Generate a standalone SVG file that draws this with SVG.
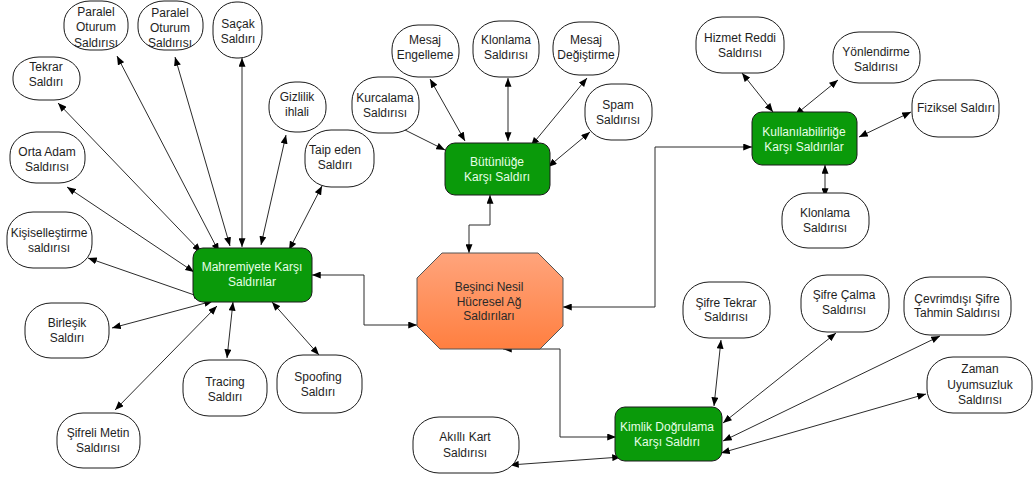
<svg xmlns="http://www.w3.org/2000/svg" width="1033" height="477" viewBox="0 0 1033 477">
  <style>
    text { font-family: "Liberation Sans", Arial, sans-serif; font-size: 12px; text-anchor: middle; }
    .leaf rect { fill: #ffffff; stroke: #1a1a1a; stroke-width: 1; }
    .leaf text { fill: #1e1e1e; }
    .hub rect { fill: #0a9a0a; stroke: #1a1a1a; stroke-width: 1; }
    .hub text { fill: #e6ffe6; }
    .core polygon { fill: url(#coreFill); stroke: #555555; stroke-width: 1; }
    .core text { fill: #2a2a2a; }
    #connectors path { fill: none; stroke: #2b2b2b; stroke-width: 1; marker-end: url(#ah); marker-start: url(#ah); }
    #connectors path.single { marker-start: none; }
  </style>
  <defs>
    <linearGradient id="coreFill" x1="0" y1="0" x2="0" y2="1">
      <stop offset="0" stop-color="#ffa47c"/>
      <stop offset="1" stop-color="#ff7f40"/>
    </linearGradient>
    <marker id="ah" viewBox="0 0 10 8" refX="10" refY="4" markerWidth="9" markerHeight="7" orient="auto-start-reverse" markerUnits="userSpaceOnUse">
      <path d="M0,0 L10,4 L0,8 z" fill="#000000"/>
    </marker>
  </defs>

  <rect width="1033" height="477" fill="#ffffff"/>

  <!-- connectors -->
  <g id="connectors">
    <!-- privacy cluster -->
    <path d="M58,103 L201,252"/>
    <path d="M117,56 L219,252"/>
    <path d="M175,57 L230,246"/>
    <path d="M242,58 L242,247"/>
    <path d="M286,135 L261,245"/>
    <path d="M322,186 L289,250"/>
    <path d="M67,187 L194,272"/>
    <path d="M88,258 L203,298"/>
    <path d="M112,328 L213,301"/>
    <path d="M115,410 L217,306"/>
    <path d="M227,358 L233,302"/>
    <path d="M319,355 L272,302"/>
    <!-- integrity cluster -->
    <path class="single" d="M405,130 L445,150"/>
    <path d="M430,79 L465,141"/>
    <path d="M508,78 L508,141"/>
    <path d="M587,78 L531,146"/>
    <path d="M590,132 L548,167"/>
    <!-- links to the central node -->
    <path d="M490,195 L490,225 L469,225 L469,253"/>
    <path d="M312,275 L364,275 L364,325 L417,325"/>
    <path d="M752,147 L655,147 L655,307 L563,307"/>
    <path d="M616,437 L560,437 L560,349 L503,349"/>
    <!-- availability cluster -->
    <path d="M742,73 L773,112"/>
    <path d="M838,80 L795,115"/>
    <path d="M911,112 L859,137"/>
    <path d="M825,197 L825,165"/>
    <!-- authentication cluster -->
    <path d="M721,340 L714,406"/>
    <path d="M836,333 L723,423"/>
    <path d="M940,336 L723,441"/>
    <path d="M926,394 L721,453"/>
    <path d="M510,465 L621,457"/>
  </g>

  <!-- central node -->
  <g id="core" class="core">
    <polygon points="442,253 538,253 563,278 563,326 540,349 440,349 417,326 417,278"/>
    <text x="489" y="291">Beşinci Nesil</text>
    <text x="489" y="306">Hücresel Ağ</text>
    <text x="489" y="320">Saldırıları</text>
  </g>

  <!-- category nodes -->
  <g id="mahremiyete" class="hub">
    <rect x="193" y="248" width="119" height="54" rx="10"/>
    <text x="252" y="271">Mahremiyete Karşı</text>
    <text x="252" y="286">Saldırılar</text>
  </g>
  <g id="butunluge" class="hub">
    <rect x="445" y="143" width="105" height="52" rx="10"/>
    <text x="497" y="166">Bütünlüğe</text>
    <text x="497" y="181">Karşı Saldırı</text>
  </g>
  <g id="kullanilabilirlige" class="hub">
    <rect x="752" y="112" width="105" height="53" rx="10"/>
    <text x="804" y="136">Kullanılabilirliğe</text>
    <text x="804" y="151">Karşı Saldırılar</text>
  </g>
  <g id="kimlik" class="hub">
    <rect x="615" y="407" width="107" height="54" rx="10"/>
    <text x="667" y="431">Kimlik Doğrulama</text>
    <text x="667" y="446">Karşı Saldırı</text>
  </g>

  <!-- privacy attacks -->
  <g id="paralel1" class="leaf">
    <rect x="64" y="1" width="64" height="49" rx="26" ry="22"/>
    <text x="96" y="16">Paralel</text>
    <text x="96" y="31">Oturum</text>
    <text x="96" y="47">Saldırısı</text>
  </g>
  <g id="paralel2" class="leaf">
    <rect x="138" y="1" width="65" height="49" rx="26" ry="22"/>
    <text x="170" y="17">Paralel</text>
    <text x="170" y="32">Oturum</text>
    <text x="170" y="47">Saldırısı</text>
  </g>
  <g id="sacak" class="leaf">
    <rect x="213" y="2" width="49" height="56" rx="23" ry="24"/>
    <text x="238" y="28">Saçak</text>
    <text x="238" y="43">Saldırı</text>
  </g>
  <g id="tekrar" class="leaf">
    <rect x="13" y="57" width="67" height="43" rx="26" ry="20"/>
    <text x="46" y="71">Tekrar</text>
    <text x="46" y="86">Saldırı</text>
  </g>
  <g id="gizlilik" class="leaf">
    <rect x="269" y="82" width="57" height="50" rx="26" ry="23"/>
    <text x="297" y="101">Gizlilik</text>
    <text x="297" y="116">ihlali</text>
  </g>
  <g id="taip" class="leaf">
    <rect x="305" y="130" width="69" height="57" rx="26" ry="24"/>
    <text x="335" y="154">Taip eden</text>
    <text x="335" y="169">Saldırı</text>
  </g>
  <g id="orta-adam" class="leaf">
    <rect x="10" y="132" width="75" height="51" rx="26" ry="23"/>
    <text x="47" y="156">Orta Adam</text>
    <text x="47" y="171">Saldırısı</text>
  </g>
  <g id="kisisel" class="leaf">
    <rect x="7" y="212" width="85" height="56" rx="26" ry="24"/>
    <text x="49" y="237">Kişiselleştirme</text>
    <text x="49" y="252">saldırısı</text>
  </g>
  <g id="birlesik" class="leaf">
    <rect x="25" y="303" width="84" height="55" rx="26" ry="24"/>
    <text x="67" y="327">Birleşik</text>
    <text x="67" y="342">Saldırı</text>
  </g>
  <g id="tracing" class="leaf">
    <rect x="183" y="360" width="84" height="56" rx="26" ry="24"/>
    <text x="225" y="386">Tracing</text>
    <text x="225" y="401">Saldırı</text>
  </g>
  <g id="spoofing" class="leaf">
    <rect x="277" y="355" width="85" height="58" rx="26" ry="24"/>
    <text x="318" y="381">Spoofing</text>
    <text x="318" y="396">Saldırı</text>
  </g>
  <g id="sifreli" class="leaf">
    <rect x="57" y="413" width="83" height="55" rx="26" ry="24"/>
    <text x="98" y="437">Şifreli Metin</text>
    <text x="98" y="452">Saldırısı</text>
  </g>

  <!-- integrity attacks -->
  <g id="kurcalama" class="leaf">
    <rect x="352" y="77" width="67" height="56" rx="26" ry="24"/>
    <text x="385" y="102">Kurcalama</text>
    <text x="385" y="117">Saldırısı</text>
  </g>
  <g id="mesaj-engelleme" class="leaf">
    <rect x="392" y="25" width="67" height="52" rx="26" ry="24"/>
    <text x="425" y="44">Mesaj</text>
    <text x="425" y="59">Engelleme</text>
  </g>
  <g id="klonlama1" class="leaf">
    <rect x="473" y="21" width="66" height="56" rx="26" ry="24"/>
    <text x="506" y="44">Klonlama</text>
    <text x="506" y="59">Saldırısı</text>
  </g>
  <g id="mesaj-degistirme" class="leaf">
    <rect x="553" y="22" width="66" height="53" rx="26" ry="24"/>
    <text x="586" y="44">Mesaj</text>
    <text x="586" y="59">Değiştirme</text>
  </g>
  <g id="spam" class="leaf">
    <rect x="585" y="84" width="67" height="56" rx="26" ry="24"/>
    <text x="618" y="109">Spam</text>
    <text x="618" y="124">Saldırısı</text>
  </g>

  <!-- availability attacks -->
  <g id="hizmet-reddi" class="leaf">
    <rect x="696" y="17" width="88" height="56" rx="26" ry="24"/>
    <text x="740" y="42">Hizmet Reddi</text>
    <text x="740" y="57">Saldırısı</text>
  </g>
  <g id="yonlendirme" class="leaf">
    <rect x="833" y="32" width="87" height="51" rx="26" ry="23"/>
    <text x="876" y="56">Yönlendirme</text>
    <text x="876" y="71">Saldırısı</text>
  </g>
  <g id="fiziksel" class="leaf">
    <rect x="912" y="80" width="87" height="57" rx="26" ry="24"/>
    <text x="956" y="112">Fiziksel Saldırı</text>
  </g>
  <g id="klonlama2" class="leaf">
    <rect x="782" y="193" width="87" height="55" rx="26" ry="24"/>
    <text x="825" y="217">Klonlama</text>
    <text x="825" y="232">Saldırısı</text>
  </g>

  <!-- authentication attacks -->
  <g id="sifre-tekrar" class="leaf">
    <rect x="683" y="282" width="87" height="56" rx="26" ry="24"/>
    <text x="726" y="307">Şifre Tekrar</text>
    <text x="726" y="321">Saldırısı</text>
  </g>
  <g id="sifre-calma" class="leaf">
    <rect x="801" y="275" width="88" height="57" rx="26" ry="24"/>
    <text x="844" y="299">Şifre Çalma</text>
    <text x="844" y="314">Saldırısı</text>
  </g>
  <g id="cevrimdisi" class="leaf">
    <rect x="904" y="277" width="107" height="58" rx="26" ry="24"/>
    <text x="957" y="303">Çevrimdışı Şifre</text>
    <text x="957" y="317">Tahmin Saldırısı</text>
  </g>
  <g id="zaman" class="leaf">
    <rect x="927" y="357" width="105" height="56" rx="26" ry="24"/>
    <text x="980" y="373">Zaman</text>
    <text x="980" y="389">Uyumsuzluk</text>
    <text x="980" y="404">Saldırısı</text>
  </g>
  <g id="akilli-kart" class="leaf">
    <rect x="413" y="417" width="106" height="56" rx="26" ry="24"/>
    <text x="465" y="441">Akıllı Kart</text>
    <text x="465" y="457">Saldırısı</text>
  </g>
</svg>
